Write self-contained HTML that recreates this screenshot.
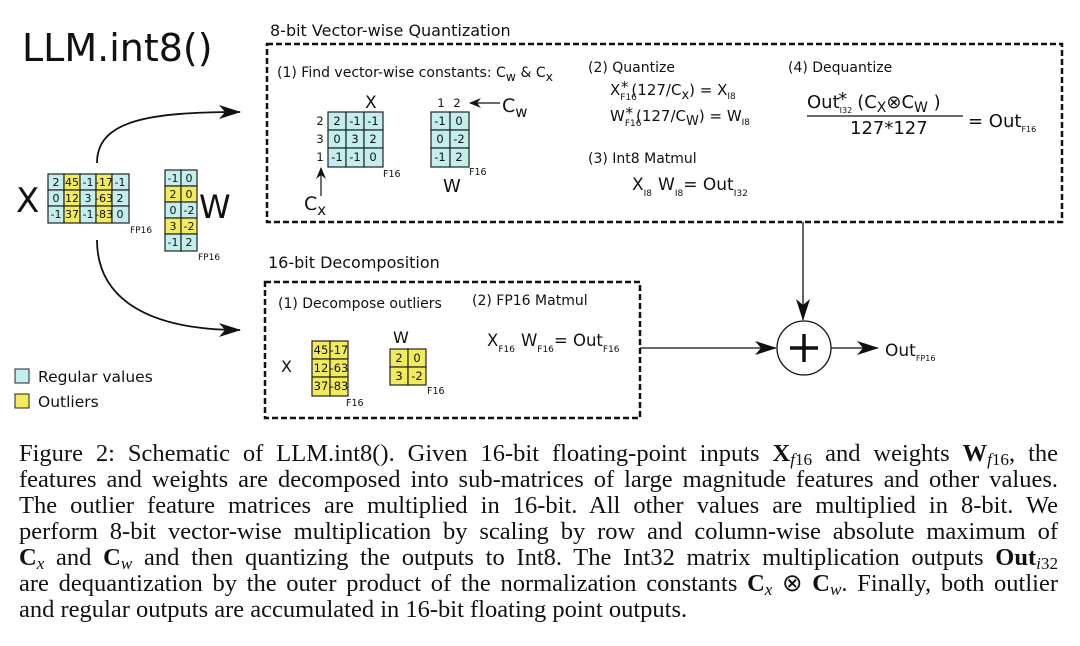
<!DOCTYPE html>
<html><head><meta charset="utf-8"><style>
body{margin:0;background:#fff;width:1080px;height:646px;overflow:hidden;position:relative}
svg{position:absolute;left:0;top:0}
svg text{font-family:"DejaVu Sans","Liberation Sans",sans-serif;fill:#111}
.cap{position:absolute;left:19px;width:1039px;top:441px;font-family:"Liberation Serif",serif;font-size:24.5px;line-height:26px;color:#111}
.cap div{text-align:justify;text-align-last:justify;white-space:nowrap;height:26px}
.cap div.last{text-align-last:left}
.cap sub{line-height:0;font-size:70%;vertical-align:-4px}
b{font-weight:bold}
</style></head><body>
<svg width="1080" height="646" viewBox="0 0 1080 646">
<defs>
<marker id="ah" viewBox="0 0 12 10" refX="11" refY="5" markerWidth="12" markerHeight="10" markerUnits="userSpaceOnUse" orient="auto"><path d="M0,0 L12,5 L0,10 L4,5 z" fill="#111"/></marker>
<marker id="ah2" viewBox="0 0 22 14" refX="21" refY="7" markerWidth="22" markerHeight="14" markerUnits="userSpaceOnUse" orient="auto"><path d="M0,0 L22,7 L0,14 L6,7 z" fill="#111"/></marker>
</defs>
<text x="22" y="61" font-size="38">LLM.int8()</text>
<path d="M97,163 C97,120 150,112 240,112" fill="none" stroke="#111" stroke-width="1.8" marker-end="url(#ah2)"/>
<path d="M97,240 C97,300 150,330 240,330" fill="none" stroke="#111" stroke-width="1.8" marker-end="url(#ah2)"/>
<text x="16" y="212" font-size="34">X</text>
<g stroke="#222" stroke-width="1.2">
<rect x="48" y="174" width="16" height="16" fill="#c2eeee"/><rect x="64" y="174" width="16" height="16" fill="#f2ec5c"/><rect x="80" y="174" width="16" height="16" fill="#c2eeee"/><rect x="96" y="174" width="16" height="16" fill="#f2ec5c"/><rect x="112" y="174" width="17" height="16" fill="#c2eeee"/>
<rect x="48" y="190" width="16" height="16" fill="#c2eeee"/><rect x="64" y="190" width="16" height="16" fill="#f2ec5c"/><rect x="80" y="190" width="16" height="16" fill="#c2eeee"/><rect x="96" y="190" width="16" height="16" fill="#f2ec5c"/><rect x="112" y="190" width="17" height="16" fill="#c2eeee"/>
<rect x="48" y="206" width="16" height="17" fill="#c2eeee"/><rect x="64" y="206" width="16" height="17" fill="#f2ec5c"/><rect x="80" y="206" width="16" height="17" fill="#c2eeee"/><rect x="96" y="206" width="16" height="17" fill="#f2ec5c"/><rect x="112" y="206" width="17" height="17" fill="#c2eeee"/>
</g>
<g font-size="11" text-anchor="middle">
<text x="56" y="186">2</text><text x="72" y="186">45</text><text x="88" y="186">-1</text><text x="104" y="186">-17</text><text x="120" y="186">-1</text>
<text x="56" y="202">0</text><text x="72" y="202">12</text><text x="88" y="202">3</text><text x="104" y="202">-63</text><text x="120" y="202">2</text>
<text x="56" y="218">-1</text><text x="72" y="218">37</text><text x="88" y="218">-1</text><text x="104" y="218">-83</text><text x="120" y="218">0</text>
</g>
<text x="130" y="233" font-size="9">FP16</text>
<g stroke="#222" stroke-width="1.2">
<rect x="165" y="170" width="16" height="16" fill="#c2eeee"/><rect x="181" y="170" width="16" height="16" fill="#c2eeee"/>
<rect x="165" y="186" width="16" height="16" fill="#f2ec5c"/><rect x="181" y="186" width="16" height="16" fill="#f2ec5c"/>
<rect x="165" y="202" width="16" height="16" fill="#c2eeee"/><rect x="181" y="202" width="16" height="16" fill="#c2eeee"/>
<rect x="165" y="218" width="16" height="16" fill="#f2ec5c"/><rect x="181" y="218" width="16" height="16" fill="#f2ec5c"/>
<rect x="165" y="234" width="16" height="17" fill="#c2eeee"/><rect x="181" y="234" width="16" height="17" fill="#c2eeee"/>
</g>
<g font-size="11" text-anchor="middle">
<text x="173" y="182">-1</text><text x="189" y="182">0</text>
<text x="173" y="198">2</text><text x="189" y="198">0</text>
<text x="173" y="214">0</text><text x="189" y="214">-2</text>
<text x="173" y="230">3</text><text x="189" y="230">-2</text>
<text x="173" y="246">-1</text><text x="189" y="246">2</text>
</g>
<text x="199" y="218" font-size="32">W</text>
<text x="198" y="260" font-size="9">FP16</text>
<rect x="15" y="369" width="14" height="14" fill="#c2eeee" stroke="#222"/>
<rect x="15" y="394" width="14" height="14" fill="#f2ec5c" stroke="#222"/>
<text x="38" y="382" font-size="15.5">Regular values</text>
<text x="38" y="407" font-size="15.5">Outliers</text>
<text x="270" y="36" font-size="16">8-bit Vector-wise Quantization</text>
<rect x="267" y="44" width="795" height="178" fill="none" stroke="#111" stroke-width="2.5" stroke-dasharray="6,3"/>
<text x="277" y="77" font-size="14">(1) Find vector-wise constants: C<tspan font-size="12.5" dy="4">w</tspan><tspan dy="-4"> &amp; C</tspan><tspan font-size="12.5" dy="4">x</tspan></text>
<text x="365" y="108" font-size="17">X</text>
<g stroke="#222" stroke-width="1.2" fill="#c2eeee">
<rect x="328" y="112" width="18" height="18"/><rect x="346" y="112" width="18" height="18"/><rect x="364" y="112" width="19" height="18"/>
<rect x="328" y="130" width="18" height="18"/><rect x="346" y="130" width="18" height="18"/><rect x="364" y="130" width="19" height="18"/>
<rect x="328" y="148" width="18" height="19"/><rect x="346" y="148" width="18" height="19"/><rect x="364" y="148" width="19" height="19"/>
<rect x="431" y="112" width="19" height="18"/><rect x="450" y="112" width="19" height="18"/>
<rect x="431" y="130" width="19" height="18"/><rect x="450" y="130" width="19" height="18"/>
<rect x="431" y="148" width="19" height="19"/><rect x="450" y="148" width="19" height="19"/>
</g>
<g font-size="11.5" text-anchor="middle">
<text x="337" y="125">2</text><text x="355" y="125">-1</text><text x="373" y="125">-1</text>
<text x="337" y="143">0</text><text x="355" y="143">3</text><text x="373" y="143">2</text>
<text x="337" y="161">-1</text><text x="355" y="161">-1</text><text x="373" y="161">0</text>
<text x="320" y="125">2</text><text x="320" y="143">3</text><text x="320" y="161">1</text>
<text x="440" y="125">-1</text><text x="459" y="125">0</text>
<text x="440" y="143">0</text><text x="459" y="143">-2</text>
<text x="440" y="161">-1</text><text x="459" y="161">2</text>
<text x="441" y="107">1</text><text x="457" y="107">2</text>
</g>
<text x="383" y="177" font-size="9.5">F16</text>
<text x="469" y="175" font-size="9.5">F16</text>
<text x="443" y="192" font-size="18">W</text>
<line x1="321" y1="196" x2="321" y2="168" stroke="#111" stroke-width="1.2" marker-end="url(#ah)"/>
<text x="304" y="210" font-size="19">C<tspan font-size="15" dy="5">x</tspan></text>
<line x1="500" y1="103" x2="470" y2="103" stroke="#111" stroke-width="1.2" marker-end="url(#ah)"/>
<text x="502" y="112" font-size="19">C<tspan font-size="15" dy="5">w</tspan></text>
<text x="588" y="72" font-size="14">(2) Quantize</text>
<text x="610" y="95" font-size="15">X<tspan font-size="9" dy="5">F16</tspan><tspan dx="-16" dy="-8">*</tspan><tspan dx="3" dy="3">(127/C</tspan><tspan font-size="13" dy="4">x</tspan><tspan dy="-4">) = X</tspan><tspan font-size="9" dy="4">I8</tspan></text>
<text x="610" y="121" font-size="15">W<tspan font-size="9" dy="5">F16</tspan><tspan dx="-16" dy="-8">*</tspan><tspan dx="3" dy="3">(127/C</tspan><tspan font-size="13" dy="4">W</tspan><tspan dy="-4">) = W</tspan><tspan font-size="9" dy="4">I8</tspan></text>
<text x="588" y="163" font-size="14">(3) Int8 Matmul</text>
<text x="632" y="190" font-size="17">X<tspan font-size="9" dy="6">I8</tspan><tspan dx="6" dy="-6">W</tspan><tspan font-size="9" dy="6">I8</tspan><tspan dy="-6">= Out</tspan><tspan font-size="9" dy="6">I32</tspan></text>
<text x="788" y="72" font-size="14">(4) Dequantize</text>
<text x="807" y="108" font-size="18">Out<tspan font-size="8" dy="5">I32</tspan><tspan dx="-14" dy="-8">*</tspan><tspan dx="10" dy="3">(C</tspan><tspan font-size="14" dy="4">X</tspan><tspan dy="-4">⊗C</tspan><tspan font-size="14" dy="4">W</tspan><tspan dy="-4"> )</tspan></text>
<line x1="807" y1="116" x2="963" y2="116" stroke="#111" stroke-width="1.2"/>
<text x="850" y="134" font-size="18">127*127</text>
<text x="968" y="127" font-size="18">= Out<tspan font-size="8" dy="5">F16</tspan></text>
<text x="268" y="268" font-size="16">16-bit Decomposition</text>
<rect x="265" y="282" width="375" height="136" fill="none" stroke="#111" stroke-width="2.5" stroke-dasharray="6,3"/>
<text x="278" y="308" font-size="14">(1) Decompose outliers</text>
<text x="472" y="305" font-size="14">(2) FP16 Matmul</text>
<text x="281" y="372" font-size="16">X</text>
<g stroke="#222" stroke-width="1.2" fill="#f2ec5c">
<rect x="312" y="341" width="18" height="18"/><rect x="330" y="341" width="18" height="18"/>
<rect x="312" y="359" width="18" height="18"/><rect x="330" y="359" width="18" height="18"/>
<rect x="312" y="377" width="18" height="19"/><rect x="330" y="377" width="18" height="19"/>
<rect x="390" y="349" width="18" height="18"/><rect x="408" y="349" width="18" height="18"/>
<rect x="390" y="367" width="18" height="18"/><rect x="408" y="367" width="18" height="18"/>
</g>
<g font-size="11.5" text-anchor="middle">
<text x="321" y="354">45</text><text x="339" y="354">-17</text>
<text x="321" y="372">12</text><text x="339" y="372">-63</text>
<text x="321" y="390">37</text><text x="339" y="390">-83</text>
<text x="399" y="362">2</text><text x="417" y="362">0</text>
<text x="399" y="380">3</text><text x="417" y="380">-2</text>
</g>
<text x="346" y="406" font-size="9.5">F16</text>
<text x="427" y="394" font-size="9.5">F16</text>
<text x="393" y="343" font-size="16">W</text>
<text x="487" y="346" font-size="16.5">X<tspan font-size="9" dy="6">F16</tspan><tspan dx="6" dy="-6">W</tspan><tspan font-size="9" dy="6">F16</tspan><tspan dy="-6">= Out</tspan><tspan font-size="9" dy="6">F16</tspan></text>
<line x1="640" y1="348" x2="776" y2="348" stroke="#111" stroke-width="1.3" marker-end="url(#ah2)"/>
<line x1="803" y1="222" x2="803" y2="320" stroke="#111" stroke-width="1.3" marker-end="url(#ah2)"/>
<circle cx="804" cy="348" r="27" fill="#fff" stroke="#111" stroke-width="1.3"/>
<line x1="790" y1="348" x2="818" y2="348" stroke="#111" stroke-width="3.5"/>
<line x1="804" y1="334" x2="804" y2="362" stroke="#111" stroke-width="3.5"/>
<line x1="831" y1="348" x2="878" y2="348" stroke="#111" stroke-width="1.3" marker-end="url(#ah2)"/>
<text x="885" y="356" font-size="17">Out<tspan font-size="8" dy="5">FP16</tspan></text>
</svg>
<div class="cap">
<div>Figure 2: Schematic of LLM.int8(). Given 16-bit floating-point inputs <b>X</b><sub><i>f</i>16</sub> and weights <b>W</b><sub><i>f</i>16</sub>, the</div>
<div>features and weights are decomposed into sub-matrices of large magnitude features and other values.</div>
<div>The outlier feature matrices are multiplied in 16-bit. All other values are multiplied in 8-bit. We</div>
<div>perform 8-bit vector-wise multiplication by scaling by row and column-wise absolute maximum of</div>
<div><b>C</b><sub><i>x</i></sub> and <b>C</b><sub><i>w</i></sub> and then quantizing the outputs to Int8. The Int32 matrix multiplication outputs <b>Out</b><sub><i>i</i>32</sub></div>
<div>are dequantization by the outer product of the normalization constants <b>C</b><sub><i>x</i></sub> ⊗ <b>C</b><sub><i>w</i></sub>. Finally, both outlier</div>
<div class="last">and regular outputs are accumulated in 16-bit floating point outputs.</div>
</div>
</body></html>
